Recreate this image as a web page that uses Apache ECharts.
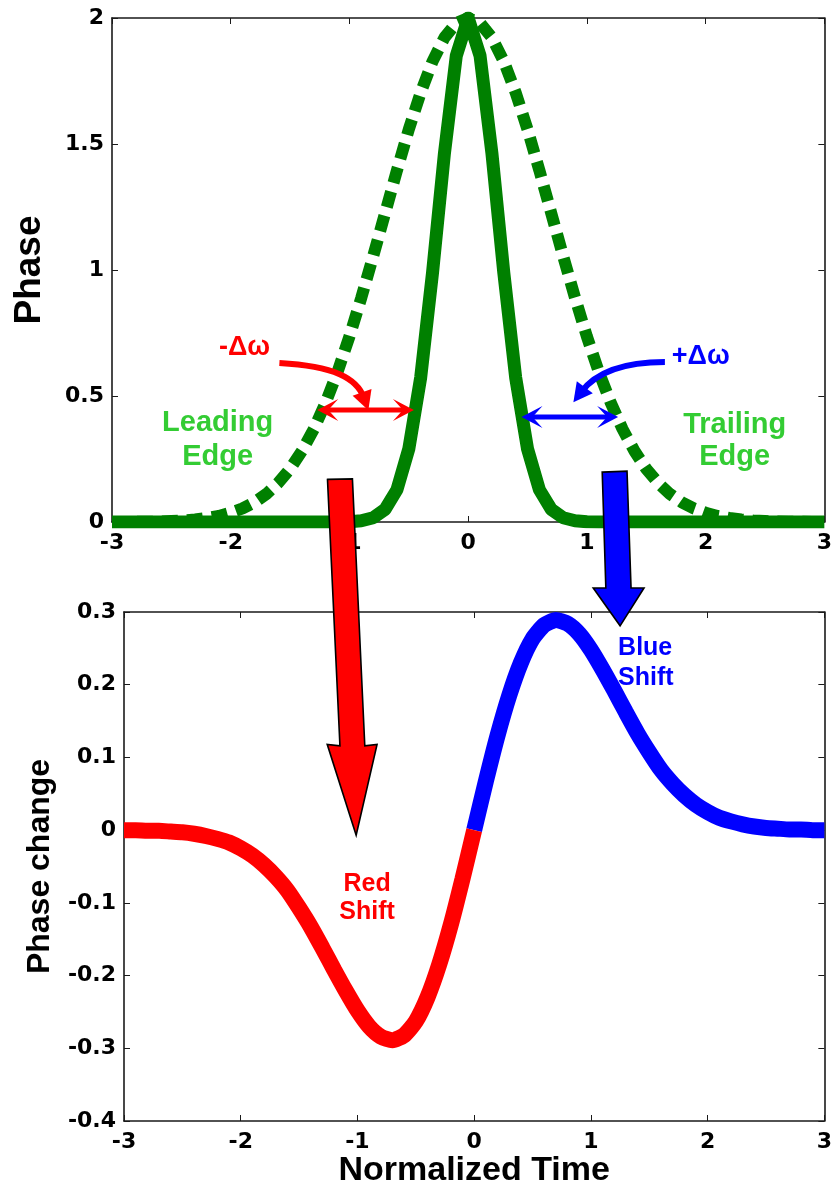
<!DOCTYPE html>
<html><head><meta charset="utf-8">
<script src="https://cdn.jsdelivr.net/npm/echarts@6/dist/echarts.min.js"></script>
<style>html,body{margin:0;padding:0;background:#fff}#c{width:835px;height:1191px}</style>
</head><body><div id="c"></div>
<script>
// ---------------- data ----------------
const time = [-3.0,-2.9,-2.8,-2.7,-2.6,-2.5,-2.4,-2.3,-2.2,-2.1,-2.0,-1.9,-1.8,-1.7,-1.6,-1.5,-1.4,-1.3,-1.2,-1.1,
  -1.0,-0.9,-0.8,-0.7,-0.6,-0.5,-0.4,-0.3,-0.2,-0.1,0.0,0.1,0.2,0.3,0.4,0.5,0.6,0.7,0.8,0.9,1.0,
  1.1,1.2,1.3,1.4,1.5,1.6,1.7,1.8,1.9,2.0,2.1,2.2,2.3,2.4,2.5,2.6,2.7,2.8,2.9,3.0];
// solid (narrow) pulse phase
const phaseNarrow = [0,0,0,0,0,0,0,0,0,0,0,0,0,0,0,0,0,0,0,0,
  0.001,0.005,0.017,0.050,0.128,0.290,0.573,0.990,1.463,1.850,2.000,1.850,1.463,0.990,0.573,0.290,0.128,0.050,0.017,0.005,0.001,
  0,0,0,0,0,0,0,0,0,0,0,0,0,0,0,0,0,0,0,0];
// dashed (wide) pulse phase
const phaseWide = [0.000,0.000,0.001,0.001,0.002,0.004,0.006,0.010,0.016,0.024,0.037,0.054,0.078,0.111,0.155,0.211,0.282,0.369,0.474,0.596,
  0.736,0.890,1.055,1.225,1.395,1.558,1.704,1.828,1.922,1.980,2.000,1.980,1.922,1.828,1.704,1.558,1.395,1.225,1.055,0.890,0.736,
  0.596,0.474,0.369,0.282,0.211,0.155,0.111,0.078,0.054,0.037,0.024,0.016,0.010,0.006,0.004,0.002,0.001,0.001,0.000,0.000];
// phase change (bottom panel)
const phaseChange = [0.000,0.000,-0.001,-0.001,-0.002,-0.003,-0.005,-0.008,-0.012,-0.017,-0.025,-0.035,-0.048,-0.064,-0.083,-0.107,-0.133,-0.162,-0.192,-0.221,
  -0.248,-0.270,-0.284,-0.289,-0.282,-0.263,-0.230,-0.185,-0.130,-0.067,0.000,0.067,0.130,0.185,0.230,0.263,0.282,0.289,0.284,0.270,0.248,
  0.221,0.192,0.162,0.133,0.107,0.083,0.064,0.048,0.035,0.025,0.017,0.012,0.008,0.005,0.003,0.002,0.001,0.001,0.000,0.000];
const xRange = [-3, 3, 1];          // min, max, interval
const phaseRange = [0, 2, 0.5];
const changeRange = [-0.4, 0.3, 0.1];

// ---------------- styles ----------------
const GREEN = '#008000', LGREEN = '#33cc33', RED = '#ff0000', BLUE = '#0000ff', AX = '#1a1a1a';
const tickFont = {fontFamily: 'DejaVu Sans', fontWeight: 'bold', fontSize: 22, color: '#000'};
const nameFont = s => ({fontFamily: 'Liberation Sans', fontWeight: 'bold', fontSize: s, color: '#000'});

function xAx(g, pos, showLabel, extra) {
  return Object.assign({type: 'value', gridIndex: g, position: pos, min: xRange[0], max: xRange[1], interval: xRange[2],
    axisLine: {show: true, onZero: false, lineStyle: {color: AX, width: 1.6}},
    axisTick: {show: true, inside: true, length: 6, lineStyle: {color: AX, width: 1}},
    axisLabel: Object.assign({show: showLabel, margin: 10}, tickFont),
    splitLine: {show: false}}, extra || {});
}
function yAx(g, pos, r, showLabel, extra) {
  return Object.assign({type: 'value', gridIndex: g, position: pos, min: r[0], max: r[1], interval: r[2],
    axisLine: {show: true, onZero: false, lineStyle: {color: AX, width: 1.6}},
    axisTick: {show: true, inside: true, length: 6, lineStyle: {color: AX, width: 1}},
    axisLabel: Object.assign({show: showLabel, margin: 8}, tickFont),
    splitLine: {show: false}}, extra || {});
}

const pairs = (arr, keep) => time.map((t, i) => [t, arr[i]]).filter(p => keep(p[0]));

const chart = echarts.init(document.getElementById('c'), null, {renderer: 'canvas'});
chart.setOption({
  animation: false,
  backgroundColor: '#fff',
  grid: [
    {left: 112, top: 18, width: 715, height: 504},
    {left: 124, top: 612, width: 703, height: 509}
  ],
  xAxis: [
    xAx(0, 'bottom', true),
    xAx(0, 'top', false),
    xAx(1, 'bottom', true, {name: 'Normalized Time', nameLocation: 'middle', nameGap: 33, nameTextStyle: nameFont(34)}),
    xAx(1, 'top', false)
  ],
  yAxis: [
    yAx(0, 'left', phaseRange, true, {name: 'Phase', nameLocation: 'middle', nameGap: 64, nameTextStyle: nameFont(37)}),
    yAx(0, 'right', phaseRange, false),
    yAx(1, 'left', changeRange, true, {name: 'Phase change', nameLocation: 'middle', nameGap: 68, nameTextStyle: nameFont(32)}),
    yAx(1, 'right', changeRange, false)
  ],
  series: [
    {type: 'line', name: 'narrow', xAxisIndex: 0, yAxisIndex: 0, data: pairs(phaseNarrow, t => true), showSymbol: false, symbol: 'none',
      lineStyle: {color: GREEN, width: 13, join: 'round'}, clip: true, z: 2},
    {type: 'line', name: 'wide', xAxisIndex: 0, yAxisIndex: 0, data: pairs(phaseWide, t => true), showSymbol: false, symbol: 'none',
      lineStyle: {color: GREEN, width: 12, type: [16, 9], cap: 'butt'}, clip: true, z: 3},
    {type: 'line', name: 'blue', xAxisIndex: 2, yAxisIndex: 2, data: pairs(phaseChange, t => t >= 0), showSymbol: false, symbol: 'none',
      smooth: 0.2, lineStyle: {color: BLUE, width: 16, cap: 'butt'}, clip: true, z: 2},
    {type: 'line', name: 'red', xAxisIndex: 2, yAxisIndex: 2, data: pairs(phaseChange, t => t <= 0), showSymbol: false, symbol: 'none',
      smooth: 0.2, lineStyle: {color: RED, width: 16, cap: 'butt'}, clip: true, z: 3}
  ]
});

// ---------------- annotations (anchored in data units) ----------------
const P0 = p => chart.convertToPixel({gridIndex: 0}, p);
const P1 = p => chart.convertToPixel({gridIndex: 1}, p);
const unit = (a, b) => { const dx = b[0] - a[0], dy = b[1] - a[1], l = Math.hypot(dx, dy); return [dx / l, dy / l]; };
function head(tip, dir, len, hw, notch) {
  const bx = tip[0] - dir[0] * len, by = tip[1] - dir[1] * len, nx = -dir[1], ny = dir[0];
  const pts = [tip, [bx + nx * hw, by + ny * hw]];
  if (notch) pts.push([tip[0] - dir[0] * (len - notch), tip[1] - dir[1] * (len - notch)]);
  pts.push([bx - nx * hw, by - ny * hw]);
  return pts;
}
const els = [];
function doubleArrow(a, b, color) {
  const d = unit(a, b);
  els.push({type: 'line', z: 50, shape: {x1: a[0] + d[0] * 8, y1: a[1] + d[1] * 8, x2: b[0] - d[0] * 8, y2: b[1] - d[1] * 8},
    style: {stroke: color, lineWidth: 5}});
  els.push({type: 'polygon', z: 50, shape: {points: head(b, d, 21, 11, 10)}, style: {fill: color}});
  els.push({type: 'polygon', z: 50, shape: {points: head(a, [-d[0], -d[1]], 21, 11, 10)}, style: {fill: color}});
}
function curveArrow(p, color) {
  const [s, c1, c2, e] = p;
  const d = unit(c2, e);
  const tip = [e[0] + d[0] * 13, e[1] + d[1] * 13];
  els.push({type: 'bezierCurve', z: 50, shape: {x1: s[0], y1: s[1], cpx1: c1[0], cpy1: c1[1], cpx2: c2[0], cpy2: c2[1], x2: e[0], y2: e[1]},
    style: {stroke: color, lineWidth: 6, fill: 'none'}});
  els.push({type: 'polygon', z: 50, shape: {points: head(tip, d, 19, 10, 0)}, style: {fill: color}});
}
function bigArrow(topL, topR, botL, botR, headL, headR, tip, color) {
  els.push({type: 'polygon', z: 60, shape: {points: [topL, topR, botR, headR, tip, headL, botL]},
    style: {fill: color, stroke: '#000', lineWidth: 1.6, lineJoin: 'miter'}});
}
function label(pt, text, color, size, align) {
  els.push({type: 'text', z: 55, x: pt[0], y: pt[1], style: {text: text, fill: color, fontFamily: 'Liberation Sans', fontWeight: 'bold',
    fontSize: size, align: align || 'center', verticalAlign: 'middle'}});
}

// double arrows (top panel)
doubleArrow(P0([-1.271, 0.444]), P0([-0.457, 0.444]), RED);
doubleArrow(P0([0.449, 0.417]), P0([1.263, 0.417]), BLUE);
// curved arrows
curveArrow([P0([-1.590, 0.631]), P0([-1.129, 0.619]), P0([-0.936, 0.571]), P0([-0.877, 0.492])], RED);
curveArrow([P0([1.657, 0.635]), P0([1.305, 0.635]), P0([1.078, 0.595]), P0([0.952, 0.516])], BLUE);
// labels top
label(P0([-1.884, 0.694]), '-Δω', RED, 27);
label(P0([1.959, 0.655]), '+Δω', BLUE, 27);
label(P0([-2.110, 0.393]), 'Leading', LGREEN, 29);
label(P0([-2.110, 0.258]), 'Edge', LGREEN, 29);
label(P0([2.245, 0.385]), 'Trailing', LGREEN, 29);
label(P0([2.245, 0.258]), 'Edge', LGREEN, 29);
// big arrows between the panels
bigArrow(P0([-1.185, 0.169]), P0([-0.975, 0.171]), P1([-1.150, 0.116]), P1([-0.937, 0.116]),
  P1([-1.259, 0.118]), P1([-0.832, 0.118]), P1([-1.011, -0.007]), RED);
bigArrow(P0([1.129, 0.198]), P0([1.338, 0.202]), P1([1.128, 0.333]), P1([1.344, 0.333]),
  P1([1.020, 0.333]), P1([1.455, 0.333]), P1([1.250, 0.281]), BLUE);
// labels bottom
label(P1([-0.917, -0.074]), 'Red', RED, 25);
label(P1([-0.917, -0.113]), 'Shift', RED, 25);
label(P1([1.233, 0.250]), 'Blue', BLUE, 25, 'left');
label(P1([1.233, 0.209]), 'Shift', BLUE, 25, 'left');

chart.setOption({graphic: {elements: els}});
</script>
</body></html>
